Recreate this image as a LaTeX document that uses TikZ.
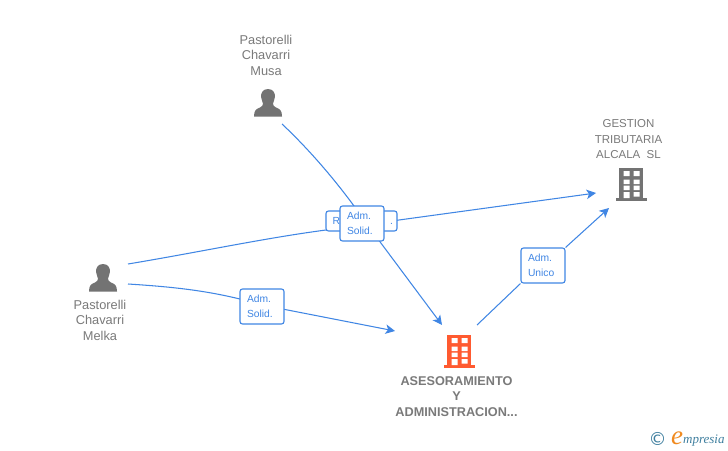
\documentclass[tikz,border=0pt]{standalone}
\usepackage{fontspec}
\setmainfont{Liberation Sans}
\newfontfamily\symfont{DejaVu Sans}
\newfontfamily\logofont{Liberation Serif}
\usetikzlibrary{arrows.meta,backgrounds}
\definecolor{linkblue}{HTML}{4086E4}
\definecolor{txtgray}{HTML}{7A7A7A}
\definecolor{icongray}{HTML}{737373}
\definecolor{orgorange}{HTML}{FF5A30}
\definecolor{logoteal}{HTML}{3F7F9F}
\definecolor{logoorange}{HTML}{F08A20}
\tikzset{
  x=1pt,y=-1pt,
  link/.style={draw=linkblue,line width=1.05pt},
  tip/.style={link,-{Stealth[length=9.5pt,width=9.5pt,inset=2.5pt]}},
  rolebox/.style={draw=linkblue,fill=white,rounded corners=2.5pt,line width=1.1pt,minimum width=44pt,minimum height=35pt,inner sep=0pt,text width=30pt,align=left,font=\fontsize{10.3}{15}\selectfont,text=linkblue},
  widebox/.style={rolebox,text width=71pt,minimum width=71pt,minimum height=20pt},
  nametext/.style={align=center,inner sep=0pt,text=txtgray,font=\fontsize{12.8}{15.5}\selectfont},
  capname/.style={nametext,font=\fontsize{11.5}{15.5}\selectfont},
  boldname/.style={nametext,font=\fontsize{12.7}{15.5}\selectfont\bfseries},
  pics/person/.style={code={
    \fill[icongray] (0,-13.5) .. controls (-5.5,-13.5) and (-7.5,-9) .. (-6.8,-5) .. controls (-6.3,-2.5) and (-5.5,-0.5) .. (-5,1) .. controls (-5,3) and (-6,4) .. (-8,5) .. controls (-12,6.5) and (-14,8) .. (-14,14) -- (14,14) .. controls (14,8) and (12,6.5) .. (8,5) .. controls (6,4) and (5,3) .. (5,1) .. controls (5.5,-0.5) and (6.3,-2.5) .. (6.8,-5) .. controls (7.5,-9) and (5.5,-13.5) .. (0,-13.5) -- cycle;
  }},
  pics/tower/.style={code={
    \fill[#1] (-11.5,-17) rectangle (12,14);
    \fill[#1] (-15,13) rectangle (16,16);
    \fill[white] (-7,-14) rectangle (-1,-9) (3,-14) rectangle (9,-9)
      (-7,-5.5) rectangle (-1,-1) (3,-5.5) rectangle (9,-1)
      (-7,0.5) rectangle (-1,5) (3,0.5) rectangle (9,5)
      (-7,7) rectangle (-1,13) (3,7) rectangle (9,11.5);
  }},
}
\begin{document}
\begin{tikzpicture}
\useasboundingbox (0,0) rectangle (728,450);
% icons
\pic at (268,102.5) {person};
\pic at (103,277.5) {person};
\pic at (458.5,352) {tower=orgorange};
\pic at (630.5,185) {tower=icongray};
% names
\node[nametext] (musa) at (266,55) {Pastorelli\\Chavarri\\Musa};
\node[nametext] (melka) at (100,320) {Pastorelli\\Chavarri\\Melka};
\node[capname] (gestion) at (628.5,139.5) {GESTION\\TRIBUTARIA\\ALCALA\ \ SL};
\node[boldname] (asesor) at (456.5,396.5) {ASESORAMIENTO\\Y\\ADMINISTRACION...};
% free ends and bends
\coordinate (musaout) at (282,124);
\coordinate (musabend) at (366,223);
\coordinate (melkaoutA) at (128,264);
\coordinate (melkabendA) at (326,230);
\coordinate (melkaoutB) at (128,284);
\coordinate (melkabendB) at (262,305);
\coordinate (asesorinA) at (442,325);
\coordinate (asesorinB) at (395,331);
\coordinate (asesorout) at (477,325);
\coordinate (gestioninA) at (596,193);
\coordinate (gestioninB) at (609,208);
% role boxes
\node[widebox] (repr) at (361.5,221) {};
\node[anchor=west,inner sep=0pt,text=linkblue,font=\fontsize{10.3}{15}\selectfont] (reprtext) at (332.5,221) {R\hspace{50pt}.};
\node[rolebox] (solidA) at (362,223.5) {Adm.\\Solid.};
\node[rolebox] (solidB) at (262,306.5) {Adm.\\Solid.};
\node[rolebox] (unico) at (543,265.5) {Adm.\\Unico};
% connectors
\begin{scope}[on background layer]
\fill[white] (0,0) rectangle (728,450);
\draw[tip] (musaout) .. controls (315,155) and (345,192) .. (musabend) -- (asesorinA);
\draw[tip] (melkaoutA) .. controls (200,252) and (265,238) .. (melkabendA) -- (gestioninA);
\draw[tip] (melkaoutB) .. controls (175,287) and (215,291) .. (melkabendB) -- (asesorinB);
\draw[link] (asesorout) -- (unico.south west);
\draw[tip] (unico.north east) -- (gestioninB);
\end{scope}
% logo
\node[inner sep=0pt,text=logoteal,font=\symfont\fontsize{18}{18}\selectfont] (copyr) at (657.5,438.5) {©};
\node[inner sep=0pt,anchor=base west,text=logoorange,font=\logofont\fontsize{27}{27}\selectfont\itshape] (logoe) at (671,444) {e};
\node[inner sep=0pt,anchor=base west,text=logoteal,font=\logofont\fontsize{13}{13}\selectfont\itshape] (logotext) at (683,443) {mpresia};
\end{tikzpicture}
\end{document}
